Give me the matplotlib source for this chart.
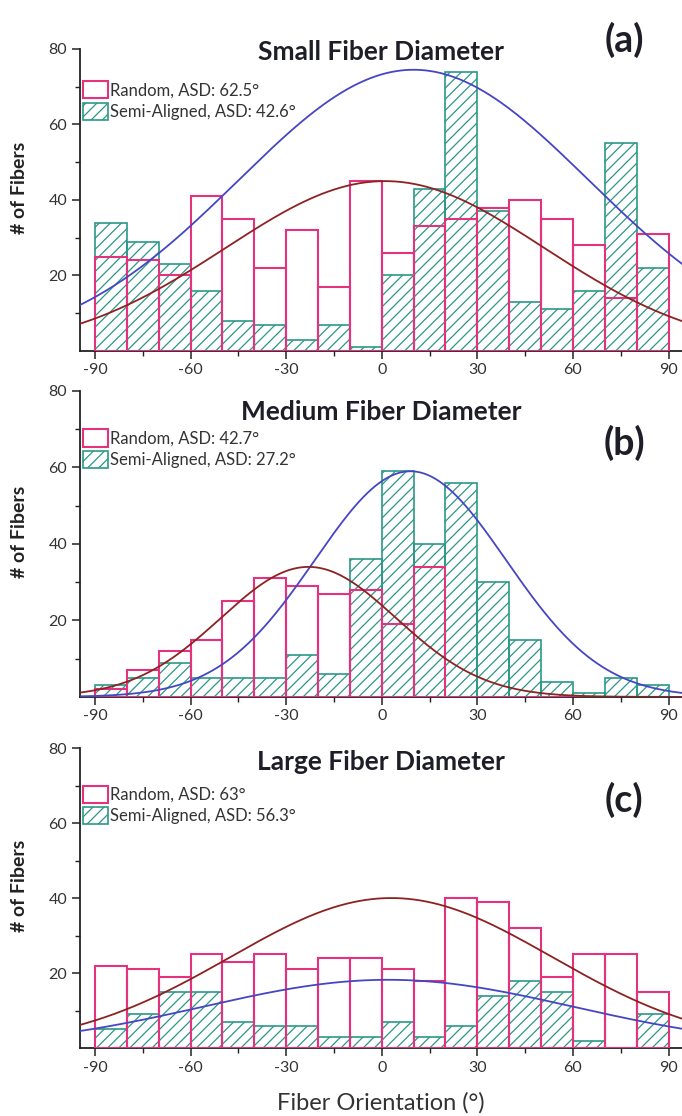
import numpy as np
import matplotlib
matplotlib.use("Agg")
import matplotlib.pyplot as plt
from matplotlib.patches import Patch

plt.rcParams['font.family'] = ['Lato', 'DejaVu Sans']
plt.rcParams['axes.unicode_minus'] = False
plt.rcParams['hatch.linewidth'] = 0.9

# left edges of the 10-degree orientation bins
bin_left = [-90, -80, -70, -60, -50, -40, -30, -20, -10, 0, 10, 20, 30, 40, 50, 60, 70, 80]

# (a) small fiber diameter
small_random = [25, 24, 20, 41, 35, 22, 32, 17, 45, 26, 33, 35, 38, 40, 35, 28, 14, 31]
small_semi = [34, 29, 23, 16, 8, 7, 3, 7, 1, 20, 43, 74, 37, 13, 11, 16, 55, 22]
# (b) medium fiber diameter
medium_random = [2, 7, 12, 15, 25, 31, 29, 27, 28, 19, 34, 0, 0, 0, 0, 0, 0, 0]
medium_semi = [3, 5, 9, 5, 5, 5, 11, 6, 36, 59, 40, 56, 30, 15, 4, 1, 5, 3]
# (c) large fiber diameter
large_random = [22, 21, 19, 25, 23, 25, 21, 24, 24, 21, 18, 40, 39, 32, 19, 25, 25, 15]
large_semi = [5, 9, 15, 15, 7, 6, 6, 3, 3, 7, 3, 6, 14, 18, 15, 2, 0, 9]

# gaussian fits (amplitude, centre, sigma)
small_random_fit = (45.0, 1.0, 50.0)
small_semi_fit = (74.5, 10.0, 55.0)
medium_random_fit = (34.0, -23.0, 27.5)
medium_semi_fit = (59.0, 9.0, 30.0)
large_random_fit = (40.0, 3.0, 50.5)
large_semi_fit = (18.2, 2.0, 58.0)

titles = ['Small Fiber Diameter', 'Medium Fiber Diameter', 'Large Fiber Diameter']
letters = ['(a)', '(b)', '(c)']
random_labels = ['Random, ASD: 62.5°', 'Random, ASD: 42.7°', 'Random, ASD: 63°']
semi_labels = ['Semi-Aligned, ASD: 42.6°', 'Semi-Aligned, ASD: 27.2°', 'Semi-Aligned, ASD: 56.3°']

PINK = '#E5327E'
TEAL = '#2A9888'
BLUE = '#4646C4'
DARKRED = '#8E2222'

panels = [
    (small_random, small_semi, small_random_fit, small_semi_fit),
    (medium_random, medium_semi, medium_random_fit, medium_semi_fit),
    (large_random, large_semi, large_random_fit, large_semi_fit),
]
rects = [
    [0.1167, 0.6855, 0.8833, 0.2706],
    [0.1167, 0.3755, 0.8833, 0.2742],
    [0.1167, 0.0609, 0.8833, 0.2688],
]
title_y = [0.99, 0.93, 0.953]
letter_y = [1.03, 0.83, 0.827]
legend_y = [0.893, 0.874, 0.875]


def gauss(x, fit):
    a, xc, s = fit
    return a * np.exp(-(x - xc) ** 2 / (2 * s ** 2))


fig = plt.figure(figsize=(6.82, 11.16), dpi=100)
xs = np.linspace(-96, 96, 500)

for i, (rnd, semi, rfit, sfit) in enumerate(panels):
    ax = fig.add_axes(rects[i])
    ax.bar(bin_left, semi, width=10, align='edge', facecolor='none',
           edgecolor=TEAL, hatch='///', linewidth=1.2, zorder=2)
    ax.bar(bin_left, rnd, width=10, align='edge', facecolor='none',
           edgecolor=PINK, linewidth=1.5, zorder=3)
    ax.plot(xs, gauss(xs, sfit), color=BLUE, lw=1.3, zorder=4)
    ax.plot(xs, gauss(xs, rfit), color=DARKRED, lw=1.3, zorder=4)

    ax.set_xlim(-94.8, 94.2)
    ax.set_ylim(0, 80)
    ax.set_xticks([-90, -60, -30, 0, 30, 60, 90])
    ax.set_xticks([-75, -45, -15, 15, 45, 75], minor=True)
    ax.set_yticks([20, 40, 60, 80])
    ax.set_yticks([10, 30, 50, 70], minor=True)
    for side in ['top', 'right']:
        ax.spines[side].set_visible(False)
    for side in ['left', 'bottom']:
        ax.spines[side].set_linewidth(1.3)
        ax.spines[side].set_color('#222222')
    ax.tick_params(which='major', direction='out', length=6, width=1.1,
                   labelsize=11.5, labelcolor='#333333', color='#222222', pad=3)
    ax.tick_params(which='minor', direction='out', length=3.5, width=1.0, color='#222222')

    ax.text(-0.099, 0.54, '# of Fibers', rotation=90, ha='center', va='center',
            transform=ax.transAxes, fontsize=14, fontweight='bold', color='#222222')
    ax.text(0.5, title_y[i], titles[i], ha='center', va='center', transform=ax.transAxes,
            fontsize=19, fontweight='bold', color='#1e1e28', clip_on=False)
    ax.text(0.904, letter_y[i], letters[i], ha='center', va='center', transform=ax.transAxes,
            fontsize=27, fontweight='bold', color='#1e1e28', clip_on=False)

    handles = [Patch(facecolor='white', edgecolor=PINK, linewidth=1.5),
               Patch(facecolor='white', edgecolor=TEAL, hatch='///', linewidth=1.2)]
    leg = ax.legend(handles, [random_labels[i], semi_labels[i]], loc='upper left',
                    bbox_to_anchor=(0.0056, legend_y[i]), frameon=False, fontsize=12,
                    handlelength=1.5, handleheight=1.2, handletextpad=0.15,
                    labelspacing=0.25, borderpad=0, borderaxespad=0)
    for t in leg.get_texts():
        t.set_color('#333333')

    if i == 2:
        ax.text(0.5, -0.183, 'Fiber Orientation (°)', ha='center', va='center',
                transform=ax.transAxes, fontsize=17, color='#333333')

fig.savefig('out.png', dpi=100)
